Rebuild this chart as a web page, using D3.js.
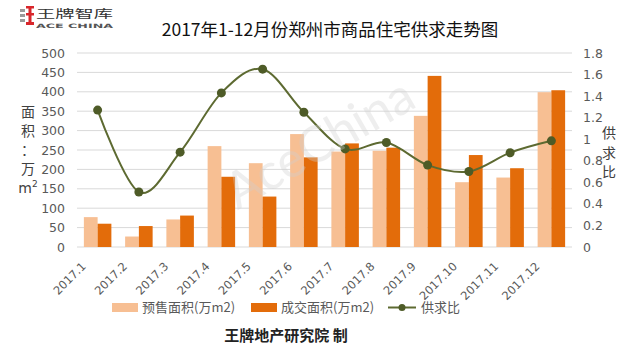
<!DOCTYPE html>
<html><head><meta charset="utf-8">
<script src="https://cdn.jsdelivr.net/npm/d3@7/dist/d3.min.js"></script>
<style>
body{margin:0;background:#fff;}
svg{display:block;}
</style></head>
<body>
<svg id="c" width="634" height="355"></svg>
<script>
const categories = ["2017.1","2017.2","2017.3","2017.4","2017.5","2017.6","2017.7","2017.8","2017.9","2017.10","2017.11","2017.12"];
const presale = [77, 27, 71, 260, 216, 291, 246, 248, 338, 167, 179, 399];
const deal = [60, 54, 81, 181, 130, 231, 267, 256, 441, 237, 203, 404];
const ratio = [1.27, 0.51, 0.88, 1.43, 1.65, 1.25, 0.91, 0.97, 0.76, 0.70, 0.875, 0.985];
const leftTicks = [0,50,100,150,200,250,300,350,400,450,500];
const rightTicks = [0,0.2,0.4,0.6,0.8,1,1.2,1.4,1.6,1.8];
const seriesNames = ["预售面积(万m2)","成交面积(万m2)","供求比"];
const title = "2017年1-12月份郑州市商品住宅供求走势图";
const footer = "王牌地产研究院 制";

const C_LIGHT = "#f7bf93", C_DARK = "#e36c0a", C_LINE = "#5d6a31", C_MARK = "#4e5b27";
const svg = d3.select("#c");
const font = "'DejaVu Sans', sans-serif";
const L = 77, R = 572, T = 53, B = 247;

const x = d3.scaleBand().domain(categories).range([L, R]).paddingInner(0).paddingOuter(0);
const xs = d3.scaleBand().domain([0,1]).range([0, x.bandwidth()]).paddingInner(0).paddingOuter(0.5);
const yL = d3.scaleLinear().domain([0,500]).range([B, T]);
const yR = d3.scaleLinear().domain([0,1.8]).range([B, T]);

// gridlines
svg.append("g").selectAll("line").data(leftTicks).join("line")
  .attr("x1", L).attr("x2", R).attr("y1", d=>yL(d)).attr("y2", d=>yL(d))
  .attr("stroke", "#d9d9d9").attr("stroke-width", 1);

// left axis
const gL = svg.append("g").attr("transform", `translate(${L},0)`)
  .call(d3.axisLeft(yL).tickValues(leftTicks).tickSize(0).tickPadding(12));
gL.select(".domain").remove();
gL.selectAll("text").attr("font-family", font).attr("font-size", 12.5).attr("fill", "#595959");

// right axis
const gR = svg.append("g").attr("transform", `translate(${R},0)`)
  .call(d3.axisRight(yR).tickValues(rightTicks).tickFormat(d=>String(d)).tickSize(0).tickPadding(11));
gR.select(".domain").remove();
gR.selectAll("text").attr("font-family", font).attr("font-size", 12.5).attr("fill", "#595959");

// bars
const gb = svg.append("g");
gb.selectAll("rect.p").data(categories).join("rect").attr("class","p")
  .attr("x", (d)=>x(d)+xs(0)).attr("width", xs.bandwidth())
  .attr("y", (d,i)=>yL(presale[i])).attr("height", (d,i)=>yL(0)-yL(presale[i]))
  .attr("fill", C_LIGHT);
gb.selectAll("rect.d").data(categories).join("rect").attr("class","d")
  .attr("x", (d)=>x(d)+xs(1)).attr("width", xs.bandwidth())
  .attr("y", (d,i)=>yL(deal[i])).attr("height", (d,i)=>yL(0)-yL(deal[i]))
  .attr("fill", C_DARK);

// line
const cx = d => x(d) + x.bandwidth()/2;
const line = d3.line().x((d,i)=>cx(categories[i])).y(d=>yR(d)).curve(d3.curveCardinal.tension(0));
svg.append("path").datum(ratio).attr("d", line).attr("fill","none").attr("stroke", C_LINE).attr("stroke-width", 2);
svg.append("g").selectAll("circle").data(ratio).join("circle")
  .attr("cx", (d,i)=>cx(categories[i])).attr("cy", d=>yR(d)).attr("r", 4.5).attr("fill", C_MARK);

// watermark
svg.append("text").attr("transform", "translate(328,158) rotate(-30)")
  .attr("text-anchor","middle").attr("font-family", "'Lato', sans-serif").attr("font-size", 50)
  .attr("fill", "#d0d0d0").attr("opacity", 0.35).text("AceChina");

// x labels
svg.append("g").selectAll("text").data(categories).join("text")
  .attr("transform", d=>`translate(${cx(d)-11},267) rotate(-45)`)
  .attr("text-anchor","end").attr("font-family", font).attr("font-size", 11.5).attr("fill","#595959")
  .text(d=>d);

// left axis title
const lt = ["面","积","：","万"];
svg.append("g").selectAll("text").data(lt).join("text")
  .attr("x", 28).attr("y", (d,i)=>117 + i*19).attr("text-anchor","middle")
  .attr("font-family", "'Noto Sans CJK SC', sans-serif").attr("font-size", 14).attr("fill","#404040").text(d=>d);
const mt = svg.append("text").attr("x", 28).attr("y", 193).attr("text-anchor","middle")
  .attr("font-family", font).attr("font-size", 14).attr("fill","#404040");
mt.append("tspan").text("m");
mt.append("tspan").attr("font-size", 9).attr("dy", -6).text("2");

// right axis title
svg.append("g").selectAll("text").data(["供","求","比"]).join("text")
  .attr("x", 609).attr("y", (d,i)=>138 + i*19.5).attr("text-anchor","middle")
  .attr("font-family", "'Noto Sans CJK SC', sans-serif").attr("font-size", 14).attr("fill","#404040").text(d=>d);

// title
svg.append("text").attr("x", 330).attr("y", 36).attr("text-anchor","middle")
  .attr("font-family", "'Noto Sans CJK SC', sans-serif").attr("font-size", 17.5).attr("fill","#111").text(title);

// legend
const lg = svg.append("g").attr("font-family", "'Noto Sans CJK SC', sans-serif").attr("font-size", 13).attr("fill","#595959");
lg.append("rect").attr("x",112).attr("y",303).attr("width",26).attr("height",9).attr("fill",C_LIGHT);
lg.append("text").attr("x",142).attr("y",312).text(seriesNames[0]);
lg.append("rect").attr("x",251).attr("y",303).attr("width",26).attr("height",9).attr("fill",C_DARK);
lg.append("text").attr("x",281).attr("y",312).text(seriesNames[1]);
lg.append("line").attr("x1",388).attr("x2",416).attr("y1",307.5).attr("y2",307.5).attr("stroke",C_LINE).attr("stroke-width",2);
lg.append("circle").attr("cx",402).attr("cy",307.5).attr("r",3.5).attr("fill",C_MARK);
lg.append("text").attr("x",421).attr("y",312).text(seriesNames[2]);

// footer
svg.append("text").attr("x", 286).attr("y", 341).attr("text-anchor","middle")
  .attr("font-family", "'Noto Sans CJK SC', sans-serif").attr("font-size", 15).attr("font-weight","bold").attr("fill","#222").text(footer);

// logo
const lo = svg.append("g");
lo.append("rect").attr("x",20).attr("y",9).attr("width",5).attr("height",3).attr("fill","#9a9a9a");
lo.append("rect").attr("x",20).attr("y",14).attr("width",5).attr("height",3).attr("fill","#9a9a9a");
lo.append("rect").attr("x",20).attr("y",19).attr("width",5).attr("height",3).attr("fill","#9a9a9a");
lo.append("rect").attr("x",26).attr("y",6).attr("width",8).attr("height",2.5).attr("fill","#d8262b");
lo.append("rect").attr("x",26).attr("y",13).attr("width",8).attr("height",2.5).attr("fill","#d8262b");
lo.append("rect").attr("x",26).attr("y",22).attr("width",8).attr("height",3).attr("fill","#d8262b");
lo.append("rect").attr("x",28.5).attr("y",6).attr("width",3).attr("height",19).attr("fill","#d8262b");
lo.append("text").attr("x",36).attr("y",18).attr("font-family","'Noto Sans CJK SC', sans-serif").attr("font-size",11).attr("fill","#333").attr("textLength",77).attr("lengthAdjust","spacingAndGlyphs").text("王牌智库");
lo.append("text").attr("x",36).attr("y",27.5).attr("font-family",font).attr("font-size",6).attr("font-weight","bold").attr("fill","#555").attr("textLength",77).attr("lengthAdjust","spacingAndGlyphs").text("ACE CHINA");
</script>
</body></html>
